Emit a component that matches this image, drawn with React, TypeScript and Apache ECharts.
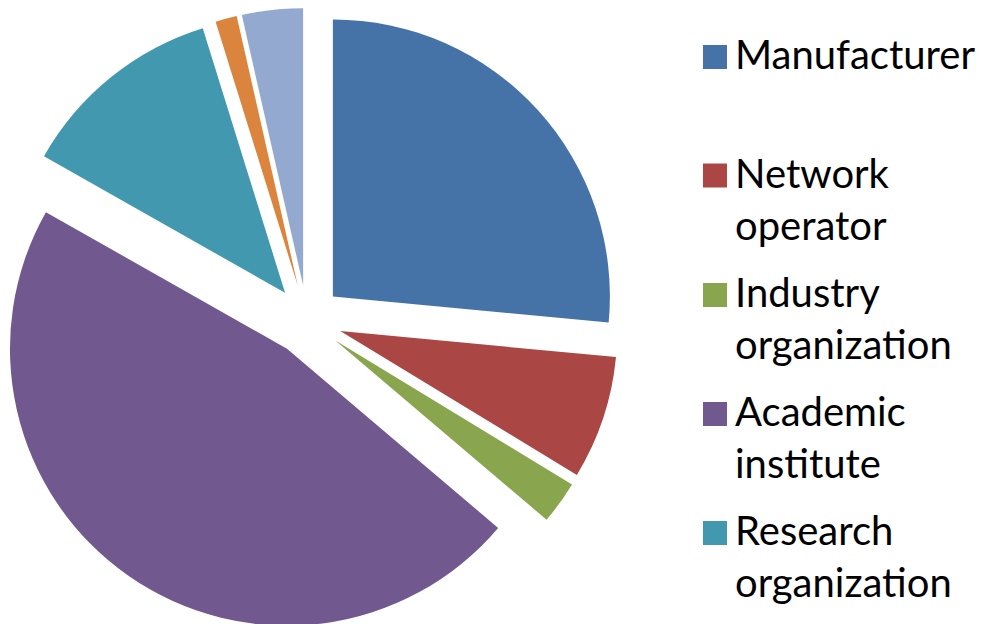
import React, { useEffect, useRef } from "react";
import * as echarts from "echarts";

const categories = [
  "Manufacturer",
  "Network operator",
  "Industry organization",
  "Academic institute",
  "Research organization",
  "Other (1)",
  "Other (2)",
];
const values = [26.5, 7.2, 2.5, 47.0, 12.0, 1.25, 3.55];
const colors = ["#4572A7", "#AA4643", "#89A54E", "#71588F", "#4198AF", "#DB843D", "#93A9CF"];
const legendLabels = [
  "Manufacturer",
  "Network\noperator",
  "Industry\norganization",
  "Academic\ninstitute",
  "Research\norganization",
];

export default function App() {
  const ref = useRef<HTMLDivElement>(null);
  useEffect(() => {
    if (!ref.current) return;
    const chart = echarts.init(ref.current, null, { renderer: "svg" });
    const legendY = [57, 175.5, 295, 414, 533];
    const graphics: any[] = [];
    legendLabels.forEach((lab, i) => {
      graphics.push({
        type: "rect",
        shape: { x: 703, y: legendY[i] - 12, width: 24, height: 24 },
        style: { fill: colors[i] },
      });
      graphics.push({
        type: "text",
        x: 735,
        y: legendY[i] - 29,
        style: {
          text: lab,
          fill: "#000",
          font: "40px Lato",
          lineHeight: 52,
          verticalAlign: "top",
          align: "left",
        },
      });
    });
    chart.setOption({
      animation: false,
      backgroundColor: "#fff",
      series: [
        {
          type: "pie",
          center: [307, 320],
          radius: [0, 277],
          startAngle: 90,
          clockwise: true,
          selectedMode: "multiple",
          selectedOffset: 35,
          label: { show: false },
          labelLine: { show: false },
          emphasis: { disabled: true },
          itemStyle: { borderWidth: 0 },
          data: categories.map((name, i) => ({
            name,
            value: values[i],
            selected: true,
            itemStyle: { color: colors[i] },
          })),
        },
      ],
      graphic: graphics,
    });
    return () => chart.dispose();
  }, []);
  return (
    <div
      ref={ref}
      style={{ position: "absolute", left: 0, top: 0, width: 981, height: 624 }}
    />
  );
}
